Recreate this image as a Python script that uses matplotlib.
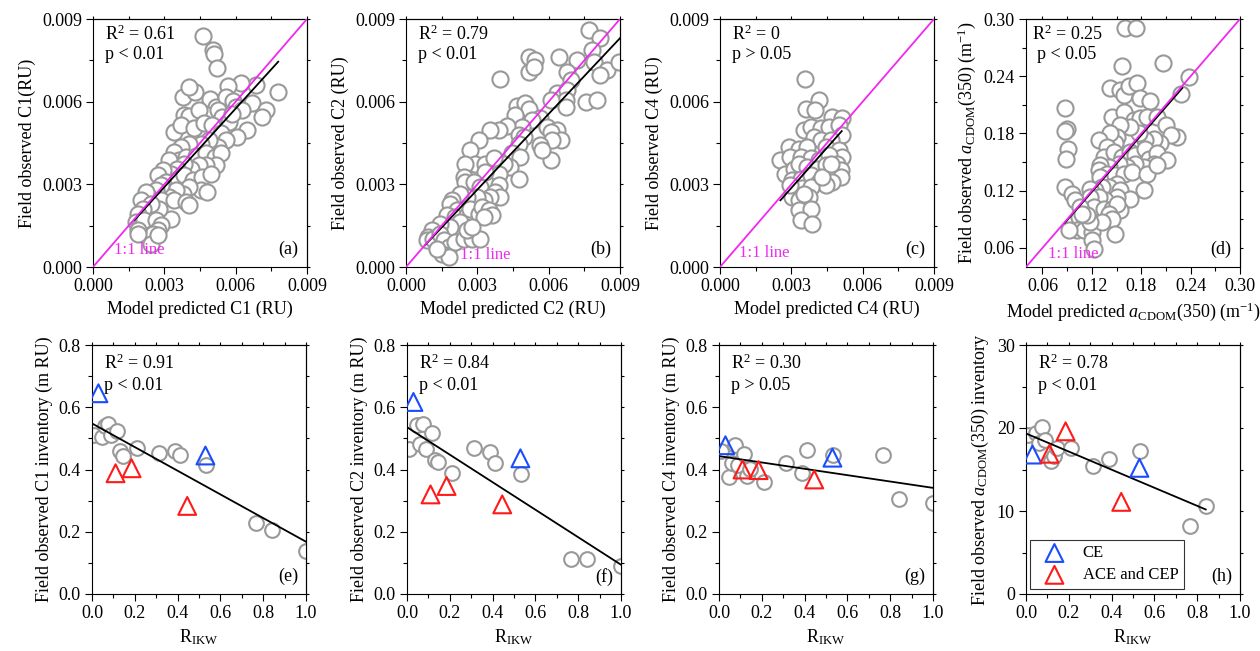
import numpy as np
import matplotlib
matplotlib.use('Agg')
import matplotlib.pyplot as plt
from matplotlib.ticker import MultipleLocator, FormatStrFormatter

plt.rcParams['font.family'] = ['Liberation Serif', 'DejaVu Serif']
plt.rcParams['mathtext.fontset'] = 'custom'
plt.rcParams['mathtext.rm'] = 'Liberation Serif'
plt.rcParams['mathtext.it'] = 'Liberation Serif:italic'
plt.rcParams['font.size'] = 13
plt.rcParams['axes.linewidth'] = 0.8

# ---- model predicted vs field observed (units 1e-3 RU) ----
c1_pred = np.array([4.63, 5.05, 5.09, 5.23, 7.77, 6.84, 6.21, 5.69, 6.70, 7.26,
                    7.09, 6.49, 6.07, 3.80, 4.30, 4.05, 4.91, 5.16, 5.58, 5.89,
                    6.00, 6.25, 3.81, 4.05, 4.81, 4.46, 5.27, 5.44, 5.72, 5.86,
                    3.42, 3.70, 4.26, 4.67, 5.02, 5.37, 5.58, 5.27, 4.88, 4.53,
                    4.05, 3.70, 3.42, 3.60, 3.21, 3.91, 4.33, 4.74, 5.13, 5.37,
                    5.16, 4.77, 4.46, 4.12, 3.84, 3.52, 3.28, 2.93, 2.72, 3.07,
                    3.56, 3.84, 4.19, 4.60, 4.95, 4.53, 4.05, 3.77, 3.49, 3.21,
                    2.86, 2.65, 2.37, 2.23, 2.02, 2.86, 3.42, 3.91, 4.05, 3.28,
                    2.79, 2.44, 2.09, 1.88, 1.81, 1.95, 2.16, 2.65, 2.86, 2.72,
                    2.51, 2.44, 2.72, 1.88, 1.88, 4.81]) * 1e-3
c1_obs = np.array([8.39, 7.87, 7.73, 7.21, 6.36, 6.60, 6.66, 6.56, 5.94, 5.69,
                   5.43, 4.97, 4.72, 6.18, 6.36, 6.52, 6.08, 5.81, 6.18, 6.03,
                   5.81, 5.69, 5.51, 5.47, 5.51, 5.69, 5.69, 5.45, 5.27, 5.57,
                   4.91, 5.15, 5.03, 5.23, 5.15, 4.85, 4.60, 4.36, 4.60, 4.48,
                   4.48, 4.36, 4.18, 3.90, 3.88, 4.00, 4.02, 4.12, 4.00, 4.12,
                   3.69, 3.69, 3.69, 3.57, 3.75, 3.57, 3.39, 3.51, 3.33, 3.09,
                   3.21, 3.33, 3.15, 3.27, 3.39, 2.79, 2.91, 2.66, 2.79, 2.54,
                   2.97, 2.79, 2.54, 2.73, 2.42, 2.42, 2.42, 2.36, 2.24, 1.76,
                   2.12, 2.30, 2.12, 1.94, 1.64, 1.45, 1.70, 1.70, 1.51, 1.33,
                   1.21, 0.85, 1.15, 1.33, 1.21, 2.73]) * 1e-3

c2_pred = np.array([7.69, 8.16, 7.83, 7.20, 7.90, 8.47, 8.96, 8.16, 6.78, 6.92,
                    6.43, 5.16, 5.44, 5.16, 5.37, 3.97, 6.36, 6.78, 6.71, 6.08,
                    7.55, 8.04, 6.71, 4.67, 5.02, 5.16, 5.65, 5.30, 4.60, 4.88,
                    4.25, 3.90, 3.54, 4.74, 4.95, 5.93, 6.36, 6.08, 6.50, 6.15,
                    5.65, 6.08, 5.72, 4.74, 4.46, 4.81, 4.39, 4.74, 4.11, 3.90,
                    3.05, 2.70, 2.91, 2.49, 3.33, 3.68, 3.33, 2.42, 2.49, 2.84,
                    3.12, 3.90, 3.75, 3.97, 3.54, 3.26, 2.98, 2.56, 2.28, 1.93,
                    1.86, 2.14, 1.72, 2.07, 2.56, 2.70, 3.05, 3.19, 3.47, 3.61,
                    3.26, 2.28, 1.86, 1.43, 1.08, 0.94, 0.87, 1.15, 1.43, 1.58,
                    1.79, 2.07, 2.42, 2.77, 3.12, 2.56, 2.77, 1.50, 1.79, 1.29]) * 1e-3
c2_obs = np.array([8.60, 8.30, 7.87, 7.51, 7.45, 7.15, 7.45, 6.96, 7.09, 6.78,
                   7.63, 7.61, 7.51, 7.09, 7.27, 6.81, 6.30, 6.42, 6.06, 6.06,
                   6.00, 6.06, 5.81, 5.84, 5.94, 5.75, 5.39, 5.33, 5.51, 5.09,
                   5.11, 4.97, 4.97, 4.78, 4.72, 5.09, 4.97, 4.91, 4.60, 4.60,
                   4.42, 3.88, 4.24, 4.48, 4.12, 4.00, 3.63, 3.21, 3.75, 3.39,
                   4.60, 4.24, 3.75, 3.75, 3.75, 3.94, 3.45, 3.27, 3.09, 3.09,
                   2.91, 2.97, 2.73, 2.54, 2.54, 2.42, 2.54, 2.54, 2.66, 2.42,
                   2.30, 2.06, 1.88, 1.82, 1.88, 2.12, 1.94, 2.18, 2.06, 1.88,
                   1.82, 1.64, 1.45, 1.57, 1.33, 1.09, 0.97, 1.03, 1.21, 0.97,
                   0.73, 0.91, 1.03, 1.03, 1.03, 1.33, 1.45, 0.48, 0.36, 0.67]) * 1e-3

c4_pred = np.array([3.57, 4.16, 3.60, 3.98, 4.73, 5.15, 3.53, 3.81, 4.23, 4.58,
                    5.01, 5.15, 3.95, 4.23, 4.66, 2.89, 3.31, 3.67, 4.44, 5.01,
                    5.15, 2.54, 2.96, 3.39, 3.81, 4.16, 4.58, 4.94, 5.08, 2.75,
                    3.10, 3.31, 3.67, 4.09, 4.44, 4.73, 5.08, 3.03, 3.39, 3.81,
                    4.16, 4.73, 4.44, 3.10, 3.46, 3.81, 3.03, 3.39, 3.74, 3.31,
                    3.53, 3.31, 3.81, 3.39, 3.88, 2.96, 4.30, 4.66]) * 1e-3
c4_obs = np.array([6.84, 6.06, 5.75, 5.69, 5.45, 5.39, 4.97, 5.09, 5.03, 5.09,
                   5.15, 4.78, 4.72, 4.60, 4.60, 4.36, 4.30, 4.36, 4.36, 4.24,
                   4.00, 3.90, 4.00, 4.00, 3.94, 3.88, 4.06, 3.75, 3.51, 3.39,
                   3.57, 3.75, 3.63, 3.57, 3.69, 3.39, 3.27, 3.15, 3.21, 3.33,
                   3.09, 3.09, 2.97, 2.79, 2.85, 2.91, 2.54, 2.54, 2.54, 2.42,
                   2.66, 2.06, 2.12, 1.70, 1.57, 2.97, 3.27, 3.75]) * 1e-3

# aCDOM(350), m^-1 (listed in hundredths)
acdom_pred = np.array([16.07, 17.41, 15.67, 20.67, 23.80, 22.78, 14.24, 15.46, 15.87, 16.48,
                       17.50, 17.90, 19.04, 8.76, 8.96, 8.76, 9.16, 8.88, 14.45, 15.87,
                       17.09, 17.90, 18.72, 19.93, 20.95, 22.37, 21.56, 20.34, 19.53, 18.51,
                       17.70, 16.68, 15.46, 15.06, 14.85, 14.24, 12.82, 13.84, 13.43, 14.65,
                       15.67, 16.68, 17.29, 18.51, 18.92, 19.93, 21.15, 19.53, 18.31, 17.29,
                       16.28, 15.26, 14.04, 13.02, 12.82, 13.84, 13.02, 14.85, 15.87, 16.89,
                       18.72, 19.93, 15.06, 14.04, 13.23, 12.41, 11.80, 15.46, 18.31, 16.68,
                       15.06, 13.63, 12.82, 11.80, 12.21, 13.43, 14.45, 15.46, 15.06, 14.04,
                       14.45, 8.76, 9.57, 9.98, 10.59, 10.38, 10.99, 10.18, 10.99, 12.01,
                       12.01, 12.21, 9.28, 14.85, 13.23, 11.80, 11.40, 10.79]) / 100
acdom_obs = np.array([29.02, 29.02, 25.06, 25.34, 23.94, 22.12, 22.72, 22.54, 22.02, 22.96,
                      23.31, 21.67, 21.42, 20.72, 18.52, 18.28, 16.42, 15.37, 19.75, 20.27,
                      19.40, 19.57, 19.75, 19.75, 18.87, 17.65, 17.82, 16.95, 17.47, 17.30,
                      18.00, 18.70, 18.87, 17.65, 16.95, 18.00, 17.30, 16.60, 15.55, 16.07,
                      15.55, 16.07, 15.72, 16.42, 15.37, 15.90, 15.20, 14.85, 14.50, 14.85,
                      14.50, 14.85, 14.50, 14.67, 14.15, 13.80, 13.45, 13.62, 13.80, 13.97,
                      13.80, 14.67, 12.75, 12.40, 12.40, 12.05, 12.22, 12.05, 12.05, 11.17,
                      11.35, 11.00, 11.35, 11.35, 10.30, 10.12, 10.12, 9.95, 10.65, 9.60,
                      9.07, 12.40, 11.70, 11.00, 10.30, 9.25, 8.37, 7.85, 7.85, 7.67,
                      6.80, 5.92, 7.85, 7.50, 8.72, 8.72, 9.42, 9.60]) / 100

# regression lines (slope, intercept, x start, x end) and stats
fit_top = [(0.95, 0.00005, 0.00174, 0.00779),
           (0.916, 0.00006, 0.0008, 0.009),
           (0.973, -0.00005, 0.00254, 0.00512),
           (0.99, 0.0, 0.087, 0.23)]
r2_top = ['0.61', '0.79', '0', '0.25']
p_top = ['p < 0.01', 'p < 0.01', 'p > 0.05', 'p < 0.05']

# ---- inventories vs R_IKW ----
r_ikw = np.array([0.01, 0.045, 0.06, 0.075, 0.09, 0.115, 0.13, 0.145,
                  0.21, 0.315, 0.39, 0.41, 0.535, 0.765, 0.84, 1.0])
c1_inv = np.array([0.51, 0.505, 0.54, 0.545, 0.51, 0.525, 0.46, 0.443,
                   0.468, 0.452, 0.458, 0.445, 0.415, 0.228, 0.206, 0.137])
c2_inv = np.array([0.465, 0.542, 0.481, 0.545, 0.465, 0.518, 0.432, 0.424,
                   0.39, 0.468, 0.457, 0.422, 0.384, 0.114, 0.114, 0.091])
c4_inv = np.array([0.46, 0.377, 0.42, 0.48, 0.414, 0.449, 0.379, 0.403,
                   0.359, 0.42, 0.39, 0.462, 0.446, 0.446, 0.304, 0.291])
acdom_inv = np.array([19.2, 19.4, 18.2, 20.1, 18.6, 16.0, 16.6, 17.6,
                      17.6, 15.4, 16.3, np.nan, 17.2, 8.2, 10.6, np.nan])

ce_r = np.array([0.03, 0.53])
ace_r = np.array([0.11, 0.185, 0.445])
ce_inv = [[0.645, 0.445], [0.617, 0.436], [0.478, 0.438], [16.8, 15.2]]
ace_inv = [[0.388, 0.404, 0.283], [0.32, 0.347, 0.288],
           [0.40, 0.398, 0.368], [16.9, 19.6, 11.1]]

fit_bottom = [(-0.38, 0.548, 1.0), (-0.442, 0.536, 1.0),
              (-0.102, 0.443, 1.0), (-10.9, 19.34, 0.84)]
r2_bottom = ['0.91', '0.84', '0.30', '0.78']
p_bottom = ['p < 0.01', 'p < 0.01', 'p > 0.05', 'p < 0.01']

acdom_lab = r'$\mathit{a}_{\rm CDOM}$(350)'
top_x = ['Model predicted C1 (RU)', 'Model predicted C2 (RU)',
         'Model predicted C4 (RU)', 'Model predicted ' + acdom_lab + r' (m$^{-1}$)']
top_y = ['Field observed C1(RU)', 'Field observed C2 (RU)',
         'Field observed C4 (RU)', 'Field observed ' + acdom_lab + r' (m$^{-1}$)']
bottom_y = ['Field observed C1 inventory (m RU)', 'Field observed C2 inventory (m RU)',
            'Field observed C4 inventory (m RU)', 'Field observed ' + acdom_lab + ' inventory']
top_letters = ['(a)', '(b)', '(c)', '(d)']
bottom_letters = ['(e)', '(f)', '(g)', '(h)']

GRAY = '#999999'
BLUE = '#1a4cff'
RED = '#ff1a1a'
MAGENTA = '#f028f0'

W, H = 1260, 651
fig = plt.figure(figsize=(W / 100, H / 100), dpi=100)


def add_ax(left, top, width, height):
    return fig.add_axes([left / W, (H - top - height) / H, width / W, height / H])


def style(ax, xmaj, xmin, ymaj, ymin, xfmt, yfmt):
    ax.xaxis.set_major_locator(MultipleLocator(xmaj))
    ax.xaxis.set_minor_locator(MultipleLocator(xmin))
    ax.yaxis.set_major_locator(MultipleLocator(ymaj))
    ax.yaxis.set_minor_locator(MultipleLocator(ymin))
    ax.xaxis.set_major_formatter(FormatStrFormatter(xfmt))
    ax.yaxis.set_major_formatter(FormatStrFormatter(yfmt))
    ax.tick_params(which='major', direction='out', length=5, width=0.8, labelsize=13, pad=3)
    ax.tick_params(which='minor', direction='out', length=3, width=0.8)
    # short ticks on the opposite sides
    for side in ('top', 'right'):
        sec = ax.secondary_xaxis('top') if side == 'top' else ax.secondary_yaxis('right')
        axis = sec.xaxis if side == 'top' else sec.yaxis
        axis.set_major_locator(MultipleLocator(xmin if side == 'top' else ymin))
        sec.tick_params(which='both', direction='out', length=2, width=0.8,
                        labeltop=False, labelright=False)
        axis.set_minor_locator(MultipleLocator(1e9))


top_lefts = [93, 406, 720, 1026]
bottom_lefts = [92, 407, 719, 1026]
pred = [c1_pred, c2_pred, c4_pred, acdom_pred]
obs = [c1_obs, c2_obs, c4_obs, acdom_obs]
one_to_one_pos = [(0.0009, 0.0006), (0.00228, 0.00042), (0.00078, 0.00052), (0.067, 0.054)]

for i in range(4):
    ax = add_ax(top_lefts[i], 19, 214, 248)
    if i < 3:
        lo, hi = 0.0, 0.009
        style(ax, 0.003, 0.0015, 0.003, 0.0015, '%.3f', '%.3f')
    else:
        lo, hi = 0.04, 0.30
        style(ax, 0.06, 0.03, 0.06, 0.03, '%.2f', '%.2f')
    ax.set_xlim(lo, hi)
    ax.set_ylim(lo, hi)
    ax.scatter(pred[i], obs[i], s=135, facecolors='white', edgecolors=GRAY,
               linewidths=1.5, zorder=2)
    k, b, x0, x1 = fit_top[i]
    xx = np.array([x0, x1])
    ax.plot(xx, k * xx + b, color='black', lw=1.3, zorder=3)
    ax.plot([lo, hi], [lo, hi], color=MAGENTA, lw=1.3, zorder=4)
    tx, ty = one_to_one_pos[i]
    ax.text(tx, ty, '1:1 line', color=MAGENTA, fontsize=12, ha='left', va='center', zorder=5)
    rx = 0.03 if i == 3 else 0.055
    px = 0.053 if i == 3 else 0.055
    ax.text(rx, 0.94, r'R$^2$ = ' + r2_top[i], transform=ax.transAxes,
            ha='left', va='center', fontsize=13)
    ax.text(px, 0.855, p_top[i], transform=ax.transAxes, ha='left', va='center', fontsize=13)
    ax.text(0.958, 0.07, top_letters[i], transform=ax.transAxes,
            ha='right', va='center', fontsize=13)
    ax.set_xlabel(top_x[i], fontsize=13, labelpad=4)
    ax.set_ylabel(top_y[i], fontsize=13, labelpad=4)

inv = [c1_inv, c2_inv, c4_inv, acdom_inv]
for i in range(4):
    ax = add_ax(bottom_lefts[i], 345, 214, 249)
    ax.set_xlim(0, 1.0)
    if i < 3:
        ax.set_ylim(0, 0.8)
        style(ax, 0.2, 0.1, 0.2, 0.1, '%.1f', '%.1f')
    else:
        ax.set_ylim(0, 30)
        style(ax, 0.2, 0.1, 10, 5, '%.1f', '%d')
    ax.scatter(r_ikw, inv[i], s=112, facecolors='white', edgecolors=GRAY,
               linewidths=1.5, zorder=2)
    k, b, x1 = fit_bottom[i]
    xx = np.array([0.0, x1])
    ax.plot(xx, k * xx + b, color='black', lw=1.3, zorder=3)
    ax.scatter(ce_r, ce_inv[i], s=165, marker='^', facecolors='none', edgecolors=BLUE,
               linewidths=1.5, zorder=4, label='CE')
    ax.scatter(ace_r, ace_inv[i], s=165, marker='^', facecolors='none', edgecolors=RED,
               linewidths=1.5, zorder=4, label='ACE and CEP')
    ax.text(0.055, 0.926, r'R$^2$ = ' + r2_bottom[i], transform=ax.transAxes,
            ha='left', va='center', fontsize=13)
    ax.text(0.055, 0.836, p_bottom[i], transform=ax.transAxes,
            ha='left', va='center', fontsize=13)
    ax.text(0.966, 0.07, bottom_letters[i], transform=ax.transAxes,
            ha='right', va='center', fontsize=13)
    ax.set_xlabel(r'R$_{\rm IKW}$', fontsize=13, labelpad=4)
    ax.set_ylabel(bottom_y[i], fontsize=13, labelpad=4)
    if i == 3:
        leg = ax.legend(loc='lower left', bbox_to_anchor=(0.02, 0.02), fontsize=12,
                        frameon=True, fancybox=False, edgecolor='black',
                        handletextpad=0.6, borderpad=0.35, labelspacing=0.35,
                        borderaxespad=0.0, handlelength=2.2)
        leg.get_frame().set_linewidth(0.8)

fig.savefig('out.png', dpi=100)
